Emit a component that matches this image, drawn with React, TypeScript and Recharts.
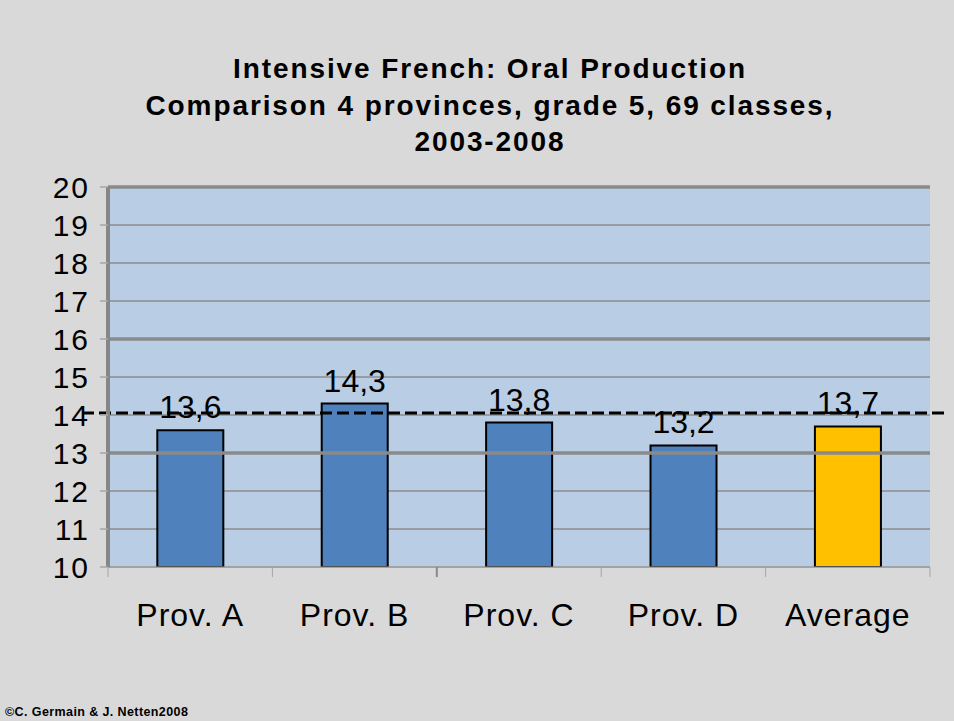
import { Bar, BarChart, CartesianGrid, LabelList, ReferenceLine, XAxis, YAxis } from "recharts";

const categories = ["Prov. A", "Prov. B", "Prov. C", "Prov. D", "Average"];
const scores = [13.6, 14.3, 13.8, 13.2, 13.7];
const barColors = ["#4f81bd", "#4f81bd", "#4f81bd", "#4f81bd", "#ffc000"];
const yTicks = [10, 11, 12, 13, 14, 15, 16, 17, 18, 19, 20];
const majorLines = [13, 16, 20];
const targetScore = 14;
const titleLines = [
  "Intensive French: Oral Production",
  "Comparison 4 provinces, grade 5, 69 classes,",
  "2003-2008",
];

const data = categories.map((name, i) => ({ name, score: scores[i], fill: barColors[i] }));

const W = 954;
const H = 721;
const PLOT_LEFT = 108;
const PLOT_RIGHT = 24;
const BAND = (W - PLOT_LEFT - PLOT_RIGHT) / categories.length;
const FONT = "'Liberation Sans', Arial, sans-serif";

function XTick(props: any) {
  const { x, y, payload, index } = props;
  const left = x - BAND / 2;
  return (
    <g>
      <line x1={left} x2={left} y1={y - 8} y2={y + 2} stroke={index === 2 ? "#8a8a8a" : "#a6a6a6"} strokeWidth={index === 2 ? 2 : 1} />
      {index === categories.length - 1 && (
        <line x1={x + BAND / 2} x2={x + BAND / 2} y1={y - 8} y2={y + 2} stroke="#a6a6a6" />
      )}
      <text x={x} y={y + 51} textAnchor="middle" fontSize={32} letterSpacing={1} fontFamily={FONT} fill="#000">
        {payload.value}
      </text>
    </g>
  );
}

function YTick(props: any) {
  const { x, y, payload } = props;
  return (
    <text x={x} y={y + 11} textAnchor="end" fontSize={30} letterSpacing={2} fontFamily={FONT} fill="#000">
      {payload.value}
    </text>
  );
}

function DashedTarget(props: any) {
  const { x1, x2, y1 } = props;
  return (
    <line x1={x1 - 26} x2={x2 + 18} y1={y1 - 2} y2={y1 - 2} stroke="#000" strokeWidth={3} strokeDasharray="12 5" />
  );
}

export default function App() {
  return (
    <div style={{ position: "absolute", left: 0, top: 0, width: W, height: H, background: "#d9d9d9", fontFamily: FONT }}>
      <div style={{ position: "absolute", left: 0, top: 51, width: 980, textAlign: "center", fontWeight: "bold", fontSize: 28, letterSpacing: 1.9, lineHeight: "36.5px", color: "#000" }}>
        {titleLines.map((t) => (
          <div key={t}>{t}</div>
        ))}
      </div>
      <BarChart
        width={W}
        height={H}
        data={data}
        margin={{ top: 187, right: PLOT_RIGHT, bottom: 114, left: 48 }}
        barCategoryGap="30%"
        style={{ position: "absolute", left: 0, top: 0 }}
      >
        <CartesianGrid vertical={false} stroke="#8c8c8c" strokeWidth={1.5} fill="#b9cde5" fillOpacity={1} />
        {majorLines.map((v) => (
          <ReferenceLine key={v} y={v} stroke="#8a8a8a" strokeWidth={3.5} />
        ))}
        <XAxis
          dataKey="name"
          height={40}
          tick={<XTick />}
          tickLine={false}
          axisLine={{ stroke: "#a6a6a6", strokeWidth: 1 }}
          interval={0}
        />
        <YAxis
          width={60}
          domain={[10, 20]}
          ticks={yTicks}
          interval={0}
          allowDataOverflow
          tickSize={8}
          tickMargin={10}
          tickLine={{ stroke: "#a6a6a6", strokeWidth: 1.5 }}
          axisLine={{ stroke: "#868686", strokeWidth: 4 }}
          tick={<YTick />}
        />
        <Bar dataKey="score" isAnimationActive={false} stroke="#000" strokeWidth={2}>
          <LabelList
            dataKey="score"
            position="top"
            offset={12}
            formatter={(v: any) => String(v).replace(".", ",")}
            style={{ fontSize: 32, fill: "#000", fontFamily: FONT }}
          />
        </Bar>
        <ReferenceLine y={targetScore} shape={<DashedTarget />} />
      </BarChart>
      <div style={{ position: "absolute", left: 5, top: 705, fontSize: 12.5, fontWeight: "bold", letterSpacing: 0.4, color: "#000" }}>
        ©C. Germain &amp; J. Netten2008
      </div>
    </div>
  );
}
